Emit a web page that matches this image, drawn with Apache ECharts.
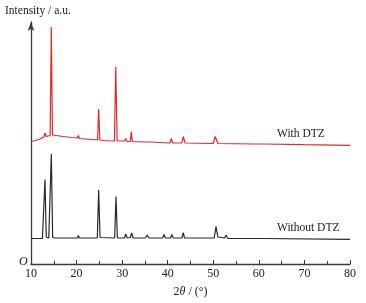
<!DOCTYPE html>
<html>
<head>
<meta charset="utf-8">
<script src="https://cdn.jsdelivr.net/npm/echarts@6/dist/echarts.min.js"></script>
<style>
  html, body { margin: 0; padding: 0; background: #fff; }
  #chart { width: 366px; height: 303px; }
</style>
</head>
<body>
<div id="chart"></div>
<script>
// 2θ (deg) and intensity (a.u.)
const withDtz = [
  [10.0, 122.5], [11.0, 123.5], [12.0, 125], [12.8, 127], [13.07, 131], [13.3, 127.5],
  [14.2, 128.5], [14.46, 237], [14.7, 129], [15.5, 128.5], [17.0, 127.5], [19.0, 126.5],
  [20.2, 126], [20.4, 128.5], [20.6, 125.5], [22.0, 125], [24.6, 124], [24.85, 155],
  [25.1, 124], [26.0, 123.5], [28.3, 123], [28.6, 197], [28.9, 123], [30.5, 123],
  [30.8, 125.5], [31.1, 122.5], [31.8, 122.5], [32.0, 132.5], [32.25, 122.5], [35.0, 122],
  [35.4, 123.5], [36.0, 122], [40.5, 121], [40.8, 125.5], [41.1, 121], [43.1, 121],
  [43.4, 127.5], [43.8, 121], [50.0, 120.5], [50.4, 127.5], [51.0, 120.5], [58.7, 120],
  [58.9, 122], [59.1, 120], [60.4, 120], [60.7, 122], [61.0, 120], [70.0, 119.3], [80.0, 118.7]
];
const withoutDtz = [
  [10.0, 25.5], [12.5, 25.5], [12.85, 27], [13.07, 84.5], [13.35, 27], [13.9, 26],
  [14.2, 27], [14.46, 110], [14.75, 26.5], [15.3, 26], [20.2, 26], [20.4, 28.5],
  [20.6, 26], [24.55, 26], [24.85, 74], [25.15, 26.5], [28.35, 26], [28.65, 67.5],
  [28.95, 26], [30.5, 26], [30.8, 30], [31.1, 26], [31.8, 26.5], [32.1, 31],
  [32.4, 26], [35.1, 26], [35.5, 29], [35.9, 26], [38.9, 26], [39.2, 29.5],
  [39.5, 26], [40.6, 26], [40.9, 29.5], [41.2, 26], [43.1, 26], [43.4, 31.3],
  [43.7, 26], [50.2, 26], [50.6, 37.5], [51.0, 27], [52.5, 26], [52.8, 29],
  [53.2, 25.5], [58.7, 25.5], [59.0, 27], [59.3, 25.5], [60.3, 25.5], [60.7, 27],
  [61.1, 25.5], [80.0, 24.7]
];
const xTicks = [10, 20, 30, 40, 50, 60, 70, 80];

const font = '"Liberation Serif", "DejaVu Serif", serif';
const axisColor = '#3a3a3a';

const chart = echarts.init(document.getElementById('chart'));
chart.setOption({
  animation: false,
  grid: { left: 31, right: 16, top: 22, bottom: 39 },
  xAxis: {
    type: 'value',
    min: xTicks[0],
    max: xTicks[xTicks.length - 1],
    interval: 10,
    name: '{n|2}{t|θ}{n| / (°)}',
    nameLocation: 'middle',
    nameGap: 22,
    nameTextStyle: {
      rich: {
        n: { fontFamily: font, fontSize: 12, color: '#222' },
        t: { fontFamily: font, fontSize: 12, fontStyle: 'italic', color: '#222' }
      }
    },
    axisLine: { lineStyle: { color: axisColor, width: 1.3 } },
    axisTick: { inside: true, length: 4, lineStyle: { color: axisColor, width: 1 } },
    minorTick: { show: true, splitNumber: 2, length: 3, lineStyle: { color: axisColor, width: 1 } },
    axisLabel: { fontFamily: font, fontSize: 12, color: '#222', margin: 4 },
    splitLine: { show: false }
  },
  yAxis: {
    type: 'value',
    min: 0,
    max: 242,
    axisLine: {
      show: true,
      symbol: ['none', 'arrow'],
      symbolSize: [5, 9],
      lineStyle: { color: axisColor, width: 1.3 }
    },
    axisTick: { show: false },
    axisLabel: { show: false },
    splitLine: { show: false }
  },
  graphic: [
    { type: 'text', left: 5, top: 5, style: { text: 'Intensity / a.u.', font: '11.5px ' + font, fill: '#222' } },
    { type: 'text', left: 19, top: 256, style: { text: 'O', font: 'italic 12px ' + font, fill: '#222' } },
    { type: 'text', left: 277, top: 128, style: { text: 'With DTZ', font: '11.5px ' + font, fill: '#222' } },
    { type: 'text', left: 277, top: 222, style: { text: 'Without DTZ', font: '11.5px ' + font, fill: '#222' } }
  ],
  series: [
    {
      name: 'With DTZ',
      type: 'line',
      data: withDtz,
      showSymbol: false,
      lineStyle: { color: '#e8262a', width: 1.2 }
    },
    {
      name: 'Without DTZ',
      type: 'line',
      data: withoutDtz,
      showSymbol: false,
      lineStyle: { color: '#2a2a2a', width: 1.2 }
    }
  ]
});
</script>
</body>
</html>
